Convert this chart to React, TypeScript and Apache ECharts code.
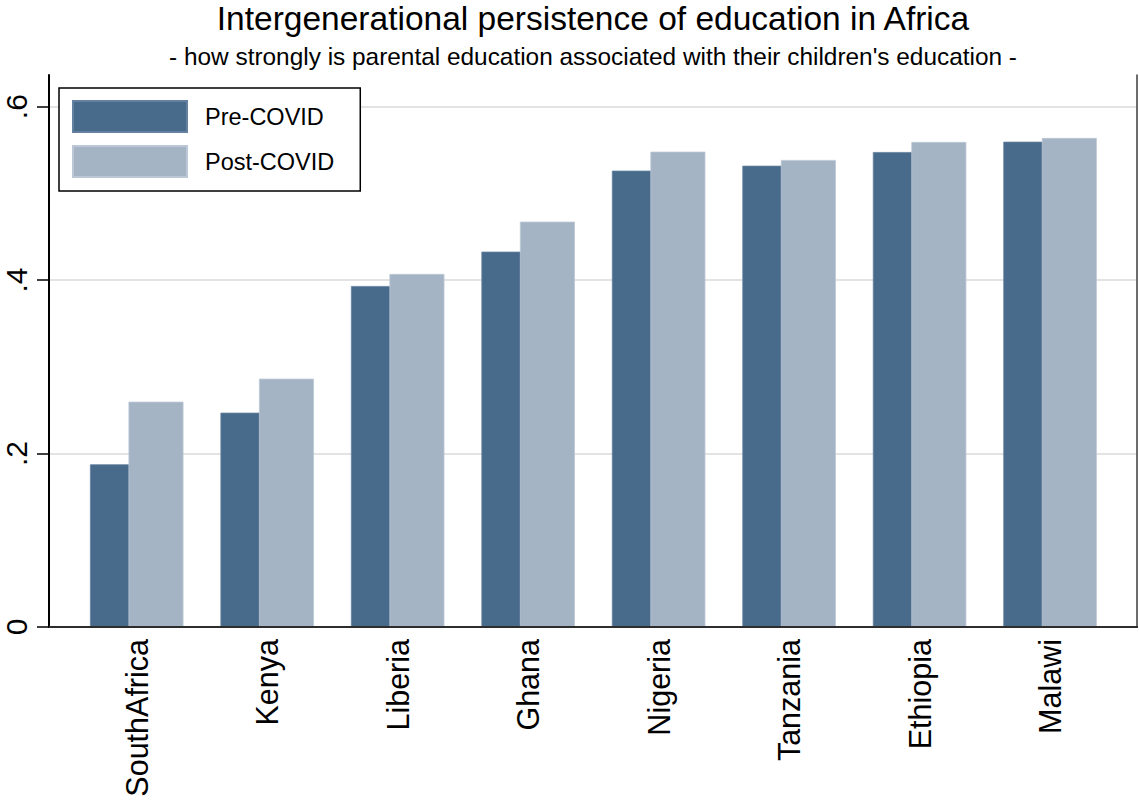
import React, { useEffect, useRef } from "react";
import * as echarts from "echarts";

const countries = ["SouthAfrica", "Kenya", "Liberia", "Ghana", "Nigeria", "Tanzania", "Ethiopia", "Malawi"];
const preCovid = [0.1876, 0.2471, 0.3932, 0.4328, 0.5262, 0.5319, 0.5477, 0.5596];
const postCovid = [0.2598, 0.2863, 0.4071, 0.4674, 0.5481, 0.5385, 0.5593, 0.5639];
const yTicks = [0, 0.2, 0.4, 0.6];
const yTickLabels = ["0", ".2", ".4", ".6"];
const yMax = 0.6365;

const FONT = "'Liberation Sans', Arial, sans-serif";

export default function App() {
  const ref = useRef<HTMLDivElement>(null);
  useEffect(() => {
    if (!ref.current) return;
    const chart = echarts.init(ref.current, null, { renderer: "svg" });
    const option: any = {
      animation: false,
      backgroundColor: "#ffffff",
      textStyle: { fontFamily: FONT },
      title: {
        text: "Intergenerational persistence of education in Africa",
        subtext: "- how strongly is parental education associated with their children's education -",
        left: 593,
        textAlign: "center",
        top: 0,
        itemGap: 7.5,
        padding: 0,
        textStyle: { fontFamily: FONT, fontSize: 33.5, fontWeight: "normal", color: "#000", lineHeight: 36 },
        subtextStyle: { fontFamily: FONT, fontSize: 24.4, color: "#000", lineHeight: 26 },
      },
      legend: {
        orient: "vertical",
        left: 59,
        top: 88,
        itemWidth: 114,
        itemHeight: 31,
        itemGap: 12,
        padding: [12, 26, 13, 13],
        borderColor: "#000",
        borderWidth: 1.5,
        borderRadius: 0,
        backgroundColor: "#fff",
        icon: "rect",
        data: ["Pre-COVID", "Post-COVID"],
        textStyle: { fontFamily: FONT, fontSize: 23.5, color: "#000", padding: [0, 0, 0, 13] },
        z: 10,
      },
      grid: [
        { left: 49, right: 2, top: 75, bottom: 174 },
        { left: 71.5, right: 23.7, top: 75, bottom: 174 },
      ],
      xAxis: [
        {
          gridIndex: 0, type: "value", min: 0, max: 1, position: "bottom", z: 5,
          axisLine: { show: true, lineStyle: { color: "#000", width: 2 } },
          axisTick: { show: false }, axisLabel: { show: false }, splitLine: { show: false },
        },
        {
          gridIndex: 0, type: "value", min: 0, max: 1, position: "top", z: 5,
          axisLine: { show: true, lineStyle: { color: "#3c3c3c", width: 1.5 } },
          axisTick: { show: false }, axisLabel: { show: false }, splitLine: { show: false },
        },
        {
          gridIndex: 1, type: "category", data: countries, position: "bottom",
          axisLine: { show: false }, axisTick: { show: false }, splitLine: { show: false },
          axisLabel: { rotate: 90, margin: 12, fontSize: 30.5, color: "#000", fontFamily: FONT, interval: 0 },
        },
      ],
      yAxis: [
        {
          gridIndex: 0, type: "value", min: 0, max: yMax, interval: 0.2, position: "left", z: 5,
          axisLine: { show: true, lineStyle: { color: "#000", width: 2 } },
          axisTick: { show: true, length: 12, customValues: yTicks, lineStyle: { color: "#000", width: 1.5 } },
          axisLabel: {
            customValues: yTicks, rotate: 90, margin: 18, fontSize: 30, color: "#000", fontFamily: FONT,
            formatter: (v: number) => {
              const i = yTicks.findIndex((t) => Math.abs(t - v) < 1e-6);
              return i >= 0 ? yTickLabels[i] : "";
            },
          },
          splitLine: { show: false },
        },
        {
          gridIndex: 0, type: "value", min: 0, max: yMax, interval: 0.2, position: "left", z: 0,
          axisLine: { show: false }, axisTick: { show: false }, axisLabel: { show: false },
          splitLine: { show: true, showMinLine: false, showMaxLine: false, lineStyle: { color: "#e3e3e3", width: 2 } },
        },
        {
          gridIndex: 0, type: "value", min: 0, max: yMax, position: "right", z: 5,
          axisLine: { show: true, lineStyle: { color: "#3c3c3c", width: 1.5 } },
          axisTick: { show: false }, axisLabel: { show: false }, splitLine: { show: false },
        },
        {
          gridIndex: 1, type: "value", min: 0, max: yMax, show: false,
          splitLine: { show: false },
        },
      ],
      series: [
        {
          name: "Pre-COVID", type: "bar", xAxisIndex: 2, yAxisIndex: 3,
          data: preCovid, barWidth: 55, barGap: "-30%",
          itemStyle: { color: "#486a8b", borderColor: "#6581a0", borderWidth: 0.8 },
        },
        {
          name: "Post-COVID", type: "bar", xAxisIndex: 2, yAxisIndex: 3,
          data: postCovid, barWidth: 55, barGap: "-30%",
          itemStyle: { color: "#a4b4c5", borderColor: "#bcc8d5", borderWidth: 0.8 },
        },
      ],
    };
    chart.setOption(option);
    return () => chart.dispose();
  }, []);
  return (
    <div
      ref={ref}
      style={{ position: "absolute", left: 0, top: 0, width: 1139, height: 801 }}
    />
  );
}
